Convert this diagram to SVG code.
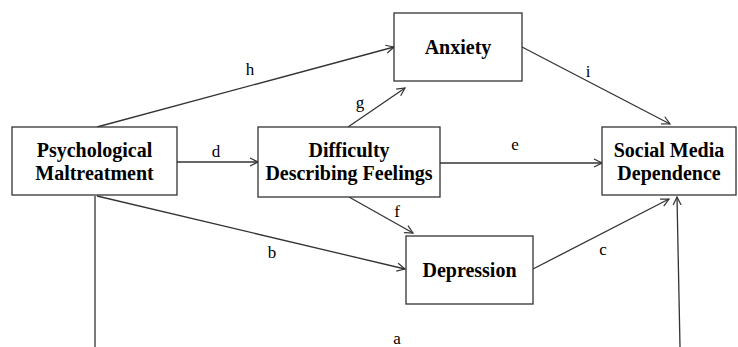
<svg xmlns="http://www.w3.org/2000/svg" width="738" height="347" viewBox="0 0 738 347">
<defs>
<marker id="arr" markerWidth="10" markerHeight="10" refX="9" refY="5" orient="auto" markerUnits="userSpaceOnUse">
<path d="M1,1 L9,5 L1,9" fill="none" stroke="#333" stroke-width="1.2"/>
</marker>
<style>
.box{fill:#fff;stroke:#333;stroke-width:1.3}
.nt{font-weight:bold;font-size:20px;fill:#000;text-anchor:middle}
.ln{fill:none;stroke:#333;stroke-width:1.3}
.lb{font-size:17px;fill:#000;text-anchor:middle}
</style>
</defs>
<rect width="738" height="347" fill="#fff"/>
<g id="connectors" font-family="'Liberation Serif', 'DejaVu Serif', serif">
<line class="ln" x1="97" y1="127" x2="394" y2="47" marker-end="url(#arr)"/>
<line class="ln" x1="348" y1="127" x2="405" y2="88" marker-end="url(#arr)"/>
<line class="ln" x1="177" y1="162" x2="258" y2="162" marker-end="url(#arr)"/>
<line class="ln" x1="440" y1="163" x2="602" y2="163" marker-end="url(#arr)"/>
<line class="ln" x1="522" y1="47" x2="670" y2="124" marker-end="url(#arr)"/>
<line class="ln" x1="349" y1="197" x2="413" y2="233" marker-end="url(#arr)"/>
<line class="ln" x1="97" y1="196" x2="405" y2="269" marker-end="url(#arr)"/>
<line class="ln" x1="533" y1="269" x2="669" y2="199" marker-end="url(#arr)"/>
<line class="ln" x1="95" y1="196" x2="95" y2="347"/>
<line class="ln" x1="680" y1="347" x2="677" y2="197" marker-end="url(#arr)"/>
<text class="lb" x="250" y="75">h</text>
<text class="lb" x="360" y="108">g</text>
<text class="lb" x="216" y="157">d</text>
<text class="lb" x="515" y="150">e</text>
<text class="lb" x="588" y="77">i</text>
<text class="lb" x="397" y="217">f</text>
<text class="lb" x="272" y="258">b</text>
<text class="lb" x="603" y="255">c</text>
<text class="lb" x="397" y="344">a</text>
</g>
<g id="pm" font-family="'Liberation Serif', 'DejaVu Serif', serif">
<rect class="box" x="12" y="127" width="165" height="68"/>
<text class="nt" x="94.5" y="157">Psychological</text>
<text class="nt" x="94.5" y="180">Maltreatment</text>
</g>
<g id="ddf" font-family="'Liberation Serif', 'DejaVu Serif', serif">
<rect class="box" x="258" y="127" width="182" height="70"/>
<text class="nt" x="349" y="157">Difficulty</text>
<text class="nt" x="349" y="180">Describing Feelings</text>
</g>
<g id="anxiety" font-family="'Liberation Serif', 'DejaVu Serif', serif">
<rect class="box" x="394" y="13" width="128" height="68"/>
<text class="nt" x="458" y="54">Anxiety</text>
</g>
<g id="depression" font-family="'Liberation Serif', 'DejaVu Serif', serif">
<rect class="box" x="406" y="236" width="127" height="68"/>
<text class="nt" x="469.5" y="277">Depression</text>
</g>
<g id="smd" font-family="'Liberation Serif', 'DejaVu Serif', serif">
<rect class="box" x="602" y="127" width="134" height="68"/>
<text class="nt" x="669" y="157">Social Media</text>
<text class="nt" x="669" y="180">Dependence</text>
</g>
</svg>
